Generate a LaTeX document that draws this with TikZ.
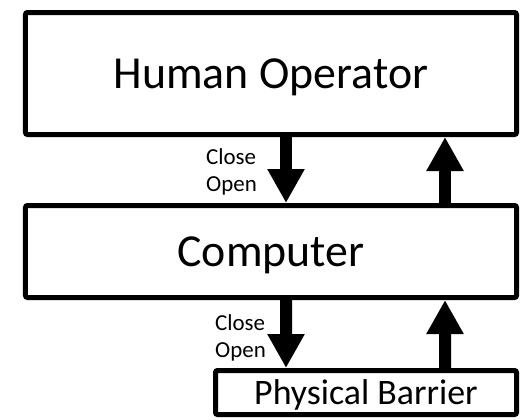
\documentclass[tikz,border=0pt]{standalone}
\usepackage{fontspec}
\setmainfont{Carlito}
\usetikzlibrary{arrows.meta}
\tikzset{
  block/.style={draw, line width=5bp, rounded corners=2bp, inner sep=0pt,
    text depth=0pt},
  big/.style={font=\fontsize{46}{50}\selectfont},
  flow/.style={-{Triangle[length=34bp, width=35bp]}, line width=12bp},
  flag/.style={font=\fontsize{23}{27}\selectfont, align=left, inner sep=0pt},
}

\begin{document}
\begin{tikzpicture}[x=1bp, y=-1bp]
\useasboundingbox (0,0) rectangle (531,419);

%% ---- the three layers ---------------------------------------------------
\node[block, big, minimum width=491bp, minimum height=122bp]
  (operator) at (271,73.5) {Human Operator};
\node[block, big, minimum width=491bp, minimum height=92bp]
  (computer) at (271,251.5) {Computer};
\node[block, font=\fontsize{36}{40}\selectfont,
  minimum width=301bp, minimum height=44bp]
  (barrier) at (366,392.5) {Physical Barrier};

%% ---- commands go down, feedback goes up ---------------------------------
\draw[flow] ([xshift=15bp]operator.south) -- ([xshift=15bp]computer.north);
\draw[flow] ([xshift=174bp]computer.north) -- ([xshift=174bp]operator.south);
\draw[flow] ([xshift=15bp]computer.south) -- ([xshift=-80bp]barrier.north);
\draw[flow] ([xshift=79bp]barrier.north) -- ([xshift=174bp]computer.south);

% command labels
\node[flag, anchor=north west] (cmdtop) at (206,148) {Close\\Open};
\node[flag, anchor=north west] (cmdlow) at (215,314) {Close\\Open};

\end{tikzpicture}
\end{document}
